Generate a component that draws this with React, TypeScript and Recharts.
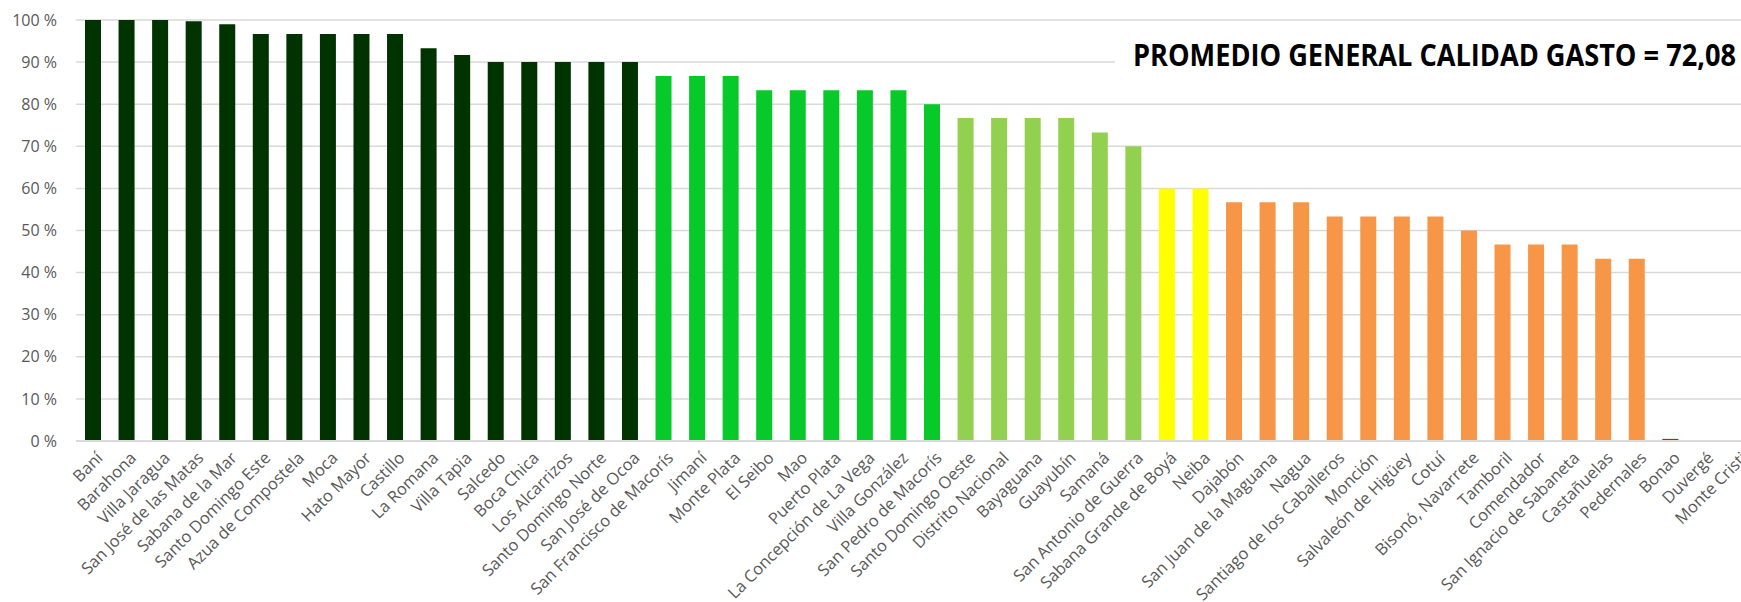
import { BarChart, Bar, XAxis, YAxis, CartesianGrid, Cell, Customized } from 'recharts';

const MUNICIPIOS = [
  'Baní', 'Barahona', 'Villa Jaragua', 'San José de las Matas', 'Sabana de la Mar',
  'Santo Domingo Este', 'Azua de Compostela', 'Moca', 'Hato Mayor', 'Castillo',
  'La Romana', 'Villa Tapia', 'Salcedo', 'Boca Chica', 'Los Alcarrizos',
  'Santo Domingo Norte', 'San José de Ocoa', 'San Francisco de Macorís', 'Jimaní', 'Monte Plata',
  'El Seibo', 'Mao', 'Puerto Plata', 'La Concepción de La Vega', 'Villa González',
  'San Pedro de Macorís', 'Santo Domingo Oeste', 'Distrito Nacional', 'Bayaguana', 'Guayubín',
  'Samaná', 'San Antonio de Guerra', 'Sabana Grande de Boyá', 'Neiba', 'Dajabón',
  'San Juan de la Maguana', 'Nagua', 'Santiago de los Caballeros', 'Monción', 'Salvaleón de Higüey',
  'Cotuí', 'Bisonó, Navarrete', 'Tamboril', 'Comendador', 'San Ignacio de Sabaneta',
  'Castañuelas', 'Pedernales', 'Bonao', 'Duvergé', 'Monte Cristi',
];

// calidad del gasto, %
const CALIDAD = [
  100, 100, 100, 99.7, 99,
  96.7, 96.7, 96.7, 96.7, 96.7,
  93.3, 91.7, 90, 90, 90,
  90, 90, 86.7, 86.7, 86.7,
  83.3, 83.3, 83.3, 83.3, 83.3,
  80, 76.7, 76.7, 76.7, 76.7,
  73.3, 70, 60, 60, 56.7,
  56.7, 56.7, 53.3, 53.3, 53.3,
  53.3, 50, 46.7, 46.7, 46.7,
  43.3, 43.3, 0.5, 0, 0,
];

// color group per municipio
const GRUPO = [
  'a', 'a', 'a', 'a', 'a', 'a', 'a', 'a', 'a', 'a', 'a', 'a', 'a', 'a', 'a', 'a', 'a',
  'b', 'b', 'b', 'b', 'b', 'b', 'b', 'b', 'b',
  'c', 'c', 'c', 'c', 'c', 'c',
  'd', 'd',
  'e', 'e', 'e', 'e', 'e', 'e', 'e', 'e', 'e', 'e', 'e', 'e', 'e',
  'f', 'f', 'f',
];

const Y_TICKS = [0, 10, 20, 30, 40, 50, 60, 70, 80, 90, 100];

const GRUPO_COLOR: { [k: string]: string } = {
  a: '#003300',
  b: '#08C92A',
  c: '#92D050',
  d: '#FFFF00',
  e: '#F79646',
  f: '#FF0000',
};

const TITULO = 'PROMEDIO GENERAL CALIDAD GASTO = 72,08';

const FONT = '"Open Sans", "Noto Sans", sans-serif';
const GRID = '#D9D9D9';

const data = MUNICIPIOS.map((m, i) => ({ name: m, value: CALIDAD[i], grupo: GRUPO[i] }));

function XTick(props: any) {
  const { x, y, payload } = props;
  return (
    <g transform={`translate(${x + 11},${y + 18})`}>
      <text textAnchor="end" transform="rotate(-45)" fill="#595959" fontSize={16.5} fontFamily={FONT}>
        {payload.value}
      </text>
    </g>
  );
}

function Titulo() {
  return (
    <g>
      <rect x={1115} y={36} width={700} height={48} fill="#ffffff" />
      <text
        x={1133}
        y={66}
        fontSize={30}
        fontWeight="bold"
        fill="#000000"
        fontFamily={'"Liberation Sans Narrow", "Open Sans", sans-serif'}
        textLength={603}
        lengthAdjust="spacingAndGlyphs"
      >
        {TITULO}
      </text>
    </g>
  );
}

export default function App() {
  return (
    <div style={{ position: 'absolute', left: 0, top: 0, width: 1741, height: 602, overflow: 'hidden', background: '#fff' }}>
      <BarChart width={1760} height={602} data={data} margin={{ top: 20, right: 6, left: 0, bottom: 0 }}>
        <CartesianGrid vertical={false} stroke={GRID} strokeWidth={1.5} />
        <XAxis
          dataKey="name"
          interval={0}
          height={161}
          tickLine={false}
          tickSize={0}
          tickMargin={0}
          axisLine={{ stroke: GRID, strokeWidth: 2 }}
          tick={<XTick />}
        />
        <YAxis
          width={76}
          domain={[0, 100]}
          ticks={Y_TICKS}
          axisLine={false}
          tickLine={false}
          tickSize={0}
          tickMargin={19}
          tickFormatter={(v: number) => `${v} %`}
          tick={{ fill: '#595959', fontSize: 16, fontFamily: FONT }}
        />
        <Bar dataKey="value" barSize={16} isAnimationActive={false}>
          {data.map((d, i) => (
            <Cell key={`c-${i}`} fill={GRUPO_COLOR[d.grupo]} />
          ))}
        </Bar>
        <Customized component={Titulo} />
      </BarChart>
    </div>
  );
}
